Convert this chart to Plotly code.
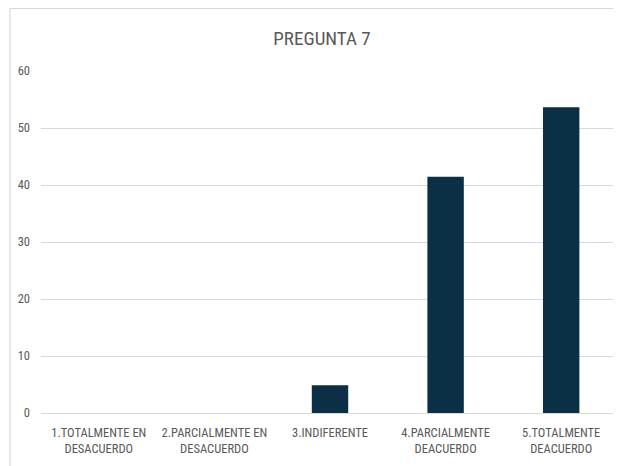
import plotly.graph_objects as go

categories = ["1.TOTALMENTE EN<br>DESACUERDO", "2.PARCIALMENTE EN<br>DESACUERDO",
              "3.INDIFERENTE", "4.PARCIALMENTE<br>DEACUERDO", "5.TOTALMENTE<br>DEACUERDO"]
values = [0, 0, 4.88, 41.46, 53.66]
y_ticks = [0, 10, 20, 30, 40, 50, 60]

# page body has an 8px margin, so the figure is drawn at (8, 8)
W, H = 613, 458
L, R, T, B = 33, 2, 63, 53
pw, ph = W - L - R, H - T - B

font_family = "Liberation Sans Narrow, Roboto Condensed, Arial Narrow, Liberation Sans, sans-serif"
fig = go.Figure(go.Bar(x=categories, y=values, marker=dict(color="#0B3045", line=dict(width=0)),
                       width=0.315))

bx0 = (2 - L) / pw
by1 = (H - B - 0.5) / ph
fig.add_shape(type="line", xref="paper", yref="paper", x0=bx0, x1=1.01, y0=by1, y1=by1,
              line=dict(color="#d9d9d9", width=1.2))
fig.add_shape(type="line", xref="paper", yref="paper", x0=bx0, x1=bx0, y0=by1, y1=-0.2,
              line=dict(color="#d9d9d9", width=1.2))

fig.update_layout(
    width=W, height=H,
    margin=dict(l=L, r=R, t=T, b=B),
    paper_bgcolor="white", plot_bgcolor="white",
    title=dict(text="PREGUNTA 7", x=(314 - L) / pw, xref="paper", xanchor="center",
               y=1 - 30 / H, yanchor="middle",
               font=dict(family=font_family, size=19, color="#595959")),
    font=dict(family=font_family, size=12, color="#595959"),
    showlegend=False,
)
fig.update_xaxes(showgrid=False, showline=False, ticks="", tickfont=dict(size=12.5, color="#595959"),
                 tickangle=0, ticklabelstandoff=10)
fig.update_yaxes(range=[0, 60], tickvals=y_ticks, showgrid=True, gridcolor="#d9d9d9", gridwidth=1,
                 zeroline=True, zerolinecolor="#d9d9d9", zerolinewidth=1, showline=False,
                 ticks="", ticklabelstandoff=10, tickfont=dict(size=12.5, color="#595959"))

fig.write_html("out.html")
